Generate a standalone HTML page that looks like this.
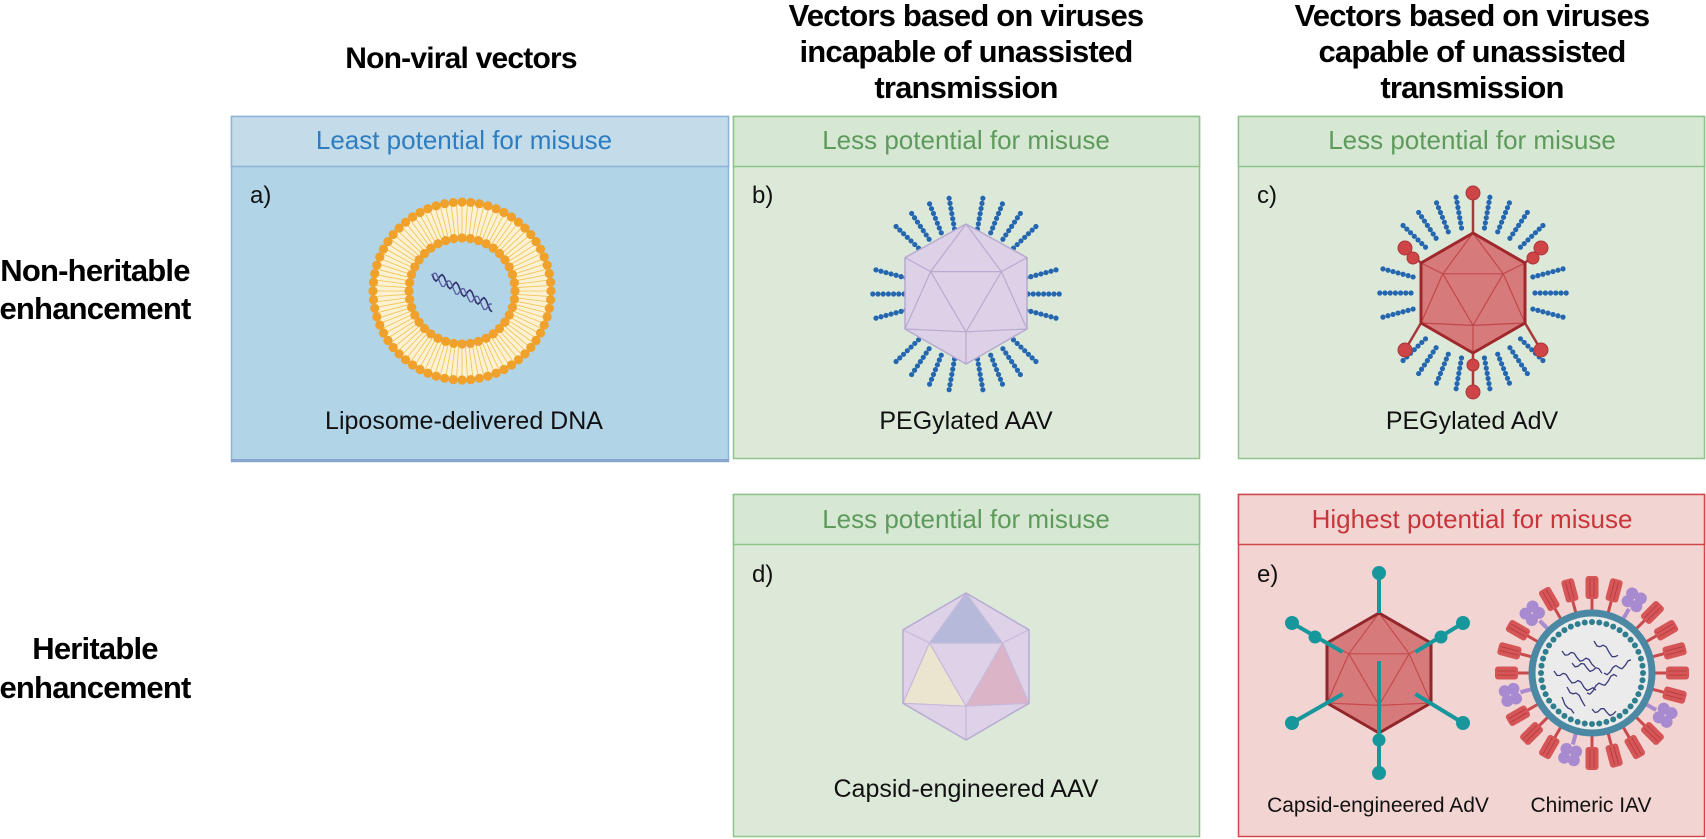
<!DOCTYPE html>
<html><head><meta charset="utf-8"><style>
html,body{margin:0;padding:0;background:#fff;}
svg{display:block;}
text{font-family:"Liberation Sans",Arial,sans-serif;}
.t{font-weight:bold;font-size:31px;fill:#000;text-anchor:middle;letter-spacing:-0.8px;}
.h{font-size:26px;text-anchor:middle;}
.c{font-size:25px;text-anchor:middle;fill:#111;}
.l{font-size:24px;fill:#111;}
</style></head><body>
<svg id="s" width="1706" height="839" viewBox="0 0 1706 839" xmlns="http://www.w3.org/2000/svg">
<text class="t" x="461" y="68" style="font-size:30px">Non-viral vectors</text>
<text class="t" x="966" y="26">Vectors based on viruses</text>
<text class="t" x="966" y="62">incapable of unassisted</text>
<text class="t" x="966" y="98">transmission</text>
<text class="t" x="1472" y="26">Vectors based on viruses</text>
<text class="t" x="1472" y="62">capable of unassisted</text>
<text class="t" x="1472" y="98">transmission</text>
<text class="t" x="95" y="281">Non-heritable</text>
<text class="t" x="95" y="319">enhancement</text>
<text class="t" x="95" y="659">Heritable</text>
<text class="t" x="95" y="698">enhancement</text>

<rect x="231.5" y="116.5" width="497" height="345" fill="#b1d4e6" stroke="#8fb3d6" stroke-width="1.5"/>
<rect x="231.5" y="116.5" width="497" height="50" fill="#c4dcea" stroke="#8fb3d6" stroke-width="1.5"/>
<rect x="231" y="459" width="498" height="3" fill="#8aa6cf"/>
<text class="h" x="464" y="149" fill="#2d7dc0">Least potential for misuse</text>
<text class="l" x="250" y="203">a)</text>
<text class="c" x="464" y="429">Liposome-delivered DNA</text>

<rect x="733.5" y="116.5" width="466" height="342" fill="#dce9d9" stroke="#8cc48a" stroke-width="1.5"/>
<rect x="733.5" y="116.5" width="466" height="50" fill="#d6e8d3" stroke="#8cc48a" stroke-width="1.5"/>
<text class="h" x="966" y="149" fill="#5e9a5b">Less potential for misuse</text>
<text class="l" x="752" y="203">b)</text>
<text class="c" x="966" y="429">PEGylated AAV</text>

<rect x="1238.5" y="116.5" width="466" height="342" fill="#dce9d9" stroke="#8cc48a" stroke-width="1.5"/>
<rect x="1238.5" y="116.5" width="466" height="50" fill="#d6e8d3" stroke="#8cc48a" stroke-width="1.5"/>
<text class="h" x="1472" y="149" fill="#5e9a5b">Less potential for misuse</text>
<text class="l" x="1257" y="203">c)</text>
<text class="c" x="1472" y="429">PEGylated AdV</text>

<rect x="733.5" y="494.5" width="466" height="342" fill="#dce9d9" stroke="#8cc48a" stroke-width="1.5"/>
<rect x="733.5" y="494.5" width="466" height="50" fill="#d6e8d3" stroke="#8cc48a" stroke-width="1.5"/>
<text class="h" x="966" y="528" fill="#5e9a5b">Less potential for misuse</text>
<text class="l" x="752" y="582">d)</text>
<text class="c" x="966" y="797">Capsid-engineered AAV</text>

<rect x="1238.5" y="494.5" width="466" height="342" fill="#f2d5d2" stroke="#d0484a" stroke-width="1.5"/>
<rect x="1238.5" y="494.5" width="466" height="50" fill="#f2d5d2" stroke="#d0484a" stroke-width="1.5"/>
<text class="h" x="1472" y="528" fill="#c8353a">Highest potential for misuse</text>
<text class="l" x="1257" y="582">e)</text>
<text class="c" x="1378" y="812" style="font-size:21px">Capsid-engineered AdV</text>
<text class="c" x="1591" y="812" style="font-size:21px">Chimeric IAV</text>
<g id="g"></g>
</svg>
<script>
var g=document.getElementById('g'),o='';
function P(a){return a.map(function(p){return p[0].toFixed(1)+','+p[1].toFixed(1)}).join(' ');}
(function(){var cx=462,cy=291;
o+='<circle cx="'+cx+'" cy="'+cy+'" r="71" fill="none" stroke="#fcf1d2" stroke-width="36"/>';
for(var i=0;i<100;i++){var a=i/100*Math.PI*2;
o+='<line x1="'+(cx+53*Math.cos(a))+'" y1="'+(cy+53*Math.sin(a))+'" x2="'+(cx+88*Math.cos(a))+'" y2="'+(cy+88*Math.sin(a))+'" stroke="#f0c24e" stroke-width="0.8"/>';}
for(var i=0;i<64;i++){var a=i/64*Math.PI*2;o+='<circle cx="'+(cx+89*Math.cos(a))+'" cy="'+(cy+89*Math.sin(a))+'" r="4.6" fill="#efa12c"/>';}
for(var i=0;i<40;i++){var a=i/40*Math.PI*2;o+='<circle cx="'+(cx+53*Math.cos(a))+'" cy="'+(cy+53*Math.sin(a))+'" r="4.6" fill="#efa12c"/>';}
var d='M432,274';for(var k=1;k<=30;k++){var x=432+k*2,y=274+k*1.1+5*Math.sin(k*0.9);d+=' L'+x+','+y.toFixed(1);}
o+='<path d="'+d+'" fill="none" stroke="#33306e" stroke-width="1.6"/>';
var d2='M432,276';for(var k=1;k<=30;k++){var x=432+k*2,y=276+k*1.1-5*Math.sin(k*0.9);d2+=' L'+x+','+y.toFixed(1);}
o+='<path d="'+d2+'" fill="none" stroke="#5552a0" stroke-width="1.2"/>';
})();
function hex(cx,top,bot,hw,s1,s2,fill,stroke,inner,sw,faces){
 var h=bot-top;
 var T=[cx,top],UR=[cx+hw,top+s1*h],LR=[cx+hw,top+s2*h],B=[cx,bot],LL=[cx-hw,top+s2*h],UL=[cx-hw,top+s1*h];
 var a=[cx-0.58*hw,top+0.34*h],b=[cx+0.58*hw,top+0.34*h],c=[cx,top+0.77*h];
 o+='<polygon points="'+P([T,UR,LR,B,LL,UL])+'" fill="'+fill+'"/>';
 if(faces){o+='<polygon points="'+P([T,a,b])+'" fill="#b5bada"/><polygon points="'+P([a,c,LL])+'" fill="#ece6cc" opacity="0.9"/><polygon points="'+P([b,c,LR])+'" fill="#dcb4c8"/>';}
 var L=[[T,a],[T,b],[a,b],[b,c],[c,a],[UL,a],[UR,b],[LL,a],[LR,b],[LL,c],[LR,c],[B,c]];
 L.forEach(function(l){o+='<line x1="'+l[0][0]+'" y1="'+l[0][1]+'" x2="'+l[1][0]+'" y2="'+l[1][1]+'" stroke="'+inner+'" stroke-width="1.2"/>';});
 o+='<polygon points="'+P([T,UR,LR,B,LL,UL])+'" fill="none" stroke="'+stroke+'" stroke-width="'+sw+'" stroke-linejoin="round"/>';
}
function peg(cx,cy){
 var top=[-100,-112,-124,-136,-80,-68,-56,-44],side=[195,180,165,-15,0,15];
 top.forEach(function(t){[t,-t].forEach(function(an){var a=an*Math.PI/180;
  o+='<line x1="'+(cx+66*Math.cos(a))+'" y1="'+(cy+66*Math.sin(a))+'" x2="'+(cx+102*Math.cos(a))+'" y2="'+(cy+102*Math.sin(a))+'" stroke="#2466b0" stroke-width="5.2" stroke-linecap="round" stroke-dasharray="0 5.2"/>';});});
 side.forEach(function(an){var a=an*Math.PI/180;
  o+='<line x1="'+(cx+62*Math.cos(a))+'" y1="'+(cy+62*Math.sin(a))+'" x2="'+(cx+95*Math.cos(a))+'" y2="'+(cy+95*Math.sin(a))+'" stroke="#2466b0" stroke-width="5.2" stroke-linecap="round" stroke-dasharray="0 5.2"/>';});
}
peg(966,294);
hex(966,224,364,61,0.24,0.75,"#dcd1e6","#b7a9cf","#b9abd0",1.5);
peg(1473,293);
(function(){var cx=1473,cy=293;
 var V=[[cx,233],[cx+52,263],[cx+52,323],[cx,353],[cx-52,323],[cx-52,263]];
 var ends=[[cx,193],[cx+68,248],[cx+68,350],[cx,392],[cx-68,350],[cx-68,248]];
 for(var i=0;i<6;i++){o+='<line x1="'+V[i][0]+'" y1="'+V[i][1]+'" x2="'+ends[i][0]+'" y2="'+ends[i][1]+'" stroke="#a8383a" stroke-width="2.5"/>';}
 hex(cx,233,353,52,0.25,0.75,"#d77a7b","#a0282c","#c2474b",3);
 for(var i=0;i<6;i++){o+='<circle cx="'+ends[i][0]+'" cy="'+ends[i][1]+'" r="7" fill="#cf4447" stroke="#a8383a"/>';}
 [[cx-60,258],[cx+60,258],[cx,365]].forEach(function(p){o+='<circle cx="'+p[0]+'" cy="'+p[1]+'" r="6" fill="#cf4447" stroke="#a8383a"/>';});
})();
hex(966,593,740,63,0.25,0.75,"#ddd2e8","#b8abd2","#c6b9da",1.5,true);
(function(){var cx=1379,cy=673;
 var V=[[cx,613],[cx+52,643],[cx+52,703],[cx,733],[cx-52,703],[cx-52,643]];
 var ends=[[cx,573],[cx+84,623],[cx+84,723],[cx,773],[cx-87,723],[cx-87,623]];
 hex(cx,613,733,52,0.25,0.75,"#d77a7b","#92262b","#c64a4d",3);
 for(var i=0;i<6;i++){var s=[cx+(V[i][0]-cx)*0.7,cy+(V[i][1]-cy)*0.7];if(i==0)s=V[0];
  o+='<line x1="'+s[0]+'" y1="'+s[1]+'" x2="'+ends[i][0]+'" y2="'+ends[i][1]+'" stroke="#17979c" stroke-width="4"/>';
  o+='<circle cx="'+ends[i][0]+'" cy="'+ends[i][1]+'" r="7" fill="#17979c"/>';}
 o+='<line x1="'+cx+'" y1="'+(cy-12)+'" x2="'+cx+'" y2="'+(cy+62)+'" stroke="#17979c" stroke-width="4"/>';
 [[cx-64,637],[cx+62,637],[cx,740]].forEach(function(p){o+='<circle cx="'+p[0]+'" cy="'+p[1]+'" r="6.5" fill="#17979c"/>';});
})();
(function(){var cx=1592,cy=673;
 for(var i=0;i<24;i++){var an=i/24*Math.PI*2-Math.PI/2;var deg=an*180/Math.PI+90;
  var purple=[2,8,13,17,21].indexOf(i)>=0;
  o+='<g transform="translate('+cx+','+cy+') rotate('+deg+')">';
  if(purple){o+='<rect x="-2" y="-74" width="4" height="12" fill="#a88ad0"/><circle cx="-5" cy="-80" r="6" fill="#a88ad0"/><circle cx="5" cy="-80" r="6" fill="#a88ad0"/><circle cx="-5" cy="-89" r="6" fill="#a88ad0"/><circle cx="5" cy="-89" r="6" fill="#a88ad0"/>';}
  else{o+='<rect x="-1.5" y="-76" width="3" height="14" fill="#c84a4c"/><rect x="-6.5" y="-97" width="13" height="23" rx="3" fill="#d65658"/><line x1="-2" y1="-95" x2="-2" y2="-76" stroke="#b03a3d" stroke-width="0.8"/><line x1="2" y1="-95" x2="2" y2="-76" stroke="#b03a3d" stroke-width="0.8"/>';}
  o+='</g>';}
 o+='<circle cx="'+cx+'" cy="'+cy+'" r="60" fill="#ebebeb" stroke="#4b88a3" stroke-width="7"/>';
 for(var i=0;i<44;i++){var a=i/44*Math.PI*2;o+='<circle cx="'+(cx+51*Math.cos(a))+'" cy="'+(cy+51*Math.sin(a))+'" r="3" fill="#2f7e8e"/>';}
 var w=[[-30,-22,34,0.4],[-38,-2,44,0.5],[-25,14,20,0.9],[-5,20,32,-0.6],[2,-32,26,0.7],[-20,-10,30,0.3],[0,36,26,0.2],[12,0,28,-0.4],[-30,24,14,1.6]];
 w.forEach(function(q){var d='M'+(cx+q[0])+','+(cy+q[1]);for(var k=1;k<=q[2]/3;k++){d+=' L'+(cx+q[0]+k*3).toFixed(1)+','+(cy+q[1]+3*Math.sin(k*1.3)+k*3*q[3]).toFixed(1);}o+='<path d="'+d+'" fill="none" stroke="#3b3a7a" stroke-width="1.3" stroke-linejoin="round"/>';});
})();
g.innerHTML=o;
</script>
</body></html>
